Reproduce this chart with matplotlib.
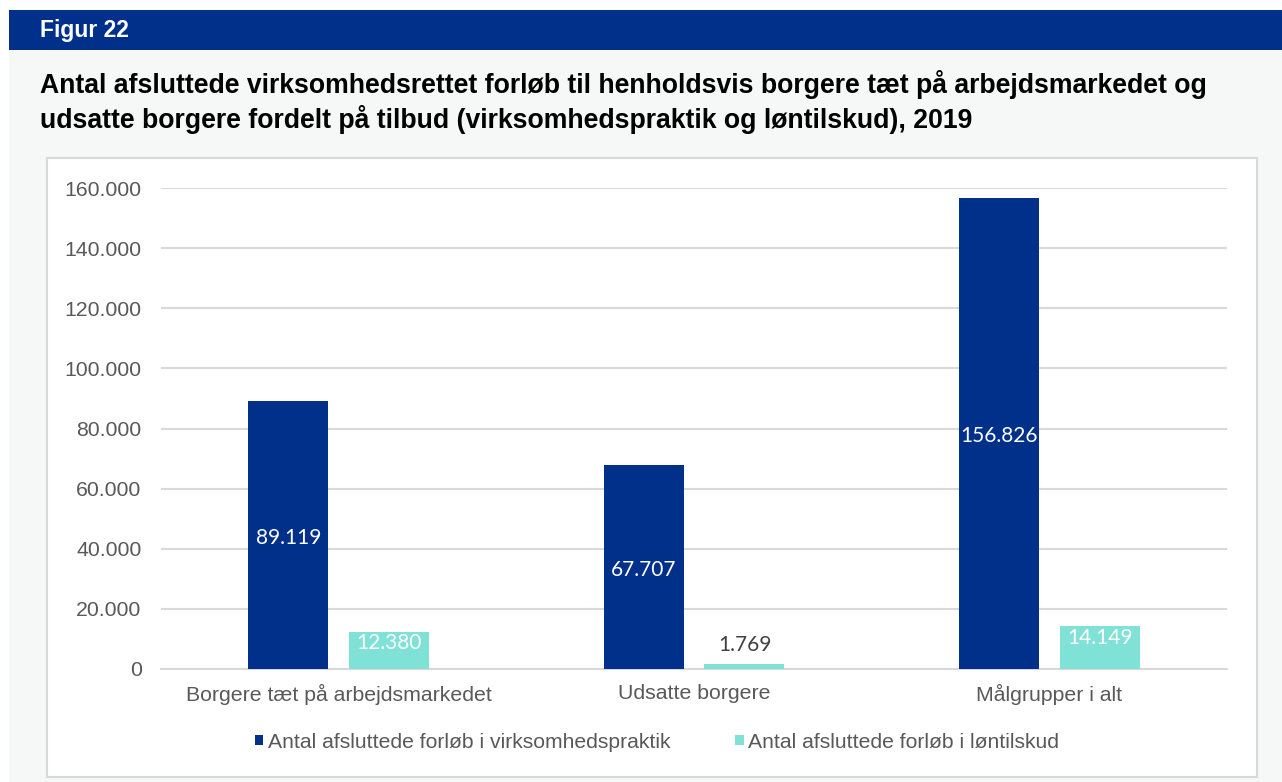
import matplotlib.pyplot as plt
from matplotlib.patches import Rectangle
from matplotlib.ticker import FuncFormatter
import numpy as np

categories = ["Borgere tæt på arbejdsmarkedet", "Udsatte borgere", "Målgrupper i alt"]
praktik = [89119, 67707, 156826]
loentilskud = [12380, 1769, 14149]
series_names = ["Antal afsluttede forløb i virksomhedspraktik",
                "Antal afsluttede forløb i løntilskud"]
yticks = [0, 20000, 40000, 60000, 80000, 100000, 120000, 140000, 160000]

W, H = 1282, 782
dark = "#00308A"
teal = "#80E2D6"
grid_col = "#D9D9D9"
txt_col = "#595959"


def dk(v):
    return f"{v:,.0f}".replace(",", ".")


fig = plt.figure(figsize=(W / 100, H / 100), dpi=100)
fig.patch.set_facecolor("white")


def px_rect(x0, y0, x1, y1, **kw):
    # rectangle in pixel coords (origin top-left)
    fig.patches.append(Rectangle((x0 / W, 1 - y1 / H), (x1 - x0) / W, (y1 - y0) / H,
                                 transform=fig.transFigure, figure=fig, **kw))


px_rect(9, 50, W, H, facecolor="#F6F7F7", edgecolor="none", zorder=0)
px_rect(9, 10, W, 50, facecolor=dark, edgecolor="none", zorder=1)
px_rect(47, 158, 1257, 777, facecolor="white", edgecolor="#D9D9D9", linewidth=1.5, zorder=1)

fig.text(40 / W, 1 - 31 / H, "Figur 22", color="white", fontsize=16.5, fontweight="bold",
         family="Liberation Sans", va="center", ha="left")
fig.text(40 / W, 1 - 102 / H,
         "Antal afsluttede virksomhedsrettet forløb til henholdsvis borgere tæt på arbejdsmarkedet og\n"
         "udsatte borgere fordelt på tilbud (virksomhedspraktik og løntilskud), 2019",
         color="black", fontsize=19.2, fontweight="bold", family="Liberation Sans",
         va="center", ha="left", linespacing=1.22)

ax = fig.add_axes([161 / W, 1 - 669 / H, (1227 - 161) / W, (669 - 188) / H])
ax.set_facecolor("none")
ax.set_zorder(2)

x = np.arange(len(categories))
bw = 0.225
off = 0.142
b1 = ax.bar(x - off, praktik, bw, color=dark, zorder=3, label=series_names[0])
b2 = ax.bar(x + off, loentilskud, bw, color=teal, zorder=3, label=series_names[1])

for rect, v in zip(b1, praktik):
    ax.annotate(dk(v), (rect.get_x() + rect.get_width() / 2, v / 2), xytext=(0, -2),
                textcoords="offset points", color="white",
                ha="center", va="center", fontsize=15, family="Lato", zorder=4)

for rect, v in zip(b2, loentilskud):
    cx = rect.get_x() + rect.get_width() / 2
    if v > 5000:
        ax.annotate(dk(v), (cx, v), xytext=(0, -1), textcoords="offset points",
                    ha="center", va="top", color="white", fontsize=15, family="Lato", zorder=4)
    else:
        ax.annotate(dk(v), (cx, v), xytext=(0, 6), textcoords="offset points",
                    ha="center", va="bottom", color="#404040", fontsize=15, family="Lato", zorder=4)

ax.set_xlim(-0.5, 2.5)
ax.set_ylim(0, 160000)
ax.set_yticks(yticks)
ax.yaxis.set_major_formatter(FuncFormatter(lambda v, p: dk(v)))
ax.set_xticks(x)
ax.set_xticklabels(categories)
ax.grid(axis="y", color=grid_col, linewidth=1.5, zorder=0)
ax.set_axisbelow(True)
for s in ["top", "right", "left"]:
    ax.spines[s].set_visible(False)
ax.spines["bottom"].set_color(grid_col)
ax.spines["bottom"].set_linewidth(1.5)
ax.tick_params(axis="both", length=0, colors=txt_col, labelsize=15.3)
ax.tick_params(axis="y", pad=14)
ax.tick_params(axis="x", pad=11)
for lab in ax.get_xticklabels() + ax.get_yticklabels():
    lab.set_family("Liberation Sans")

leg = fig.legend(handles=[b1, b2], labels=series_names, loc="center",
                 bbox_to_anchor=(657 / W, 1 - 742 / H), ncol=2, frameon=False,
                 handlelength=0.4, handleheight=0.4, handletextpad=0.2, columnspacing=3.1,
                 prop={"family": "Liberation Sans", "size": 15.2})
for t in leg.get_texts():
    t.set_color(txt_col)

fig.savefig("out.png", dpi=100)
